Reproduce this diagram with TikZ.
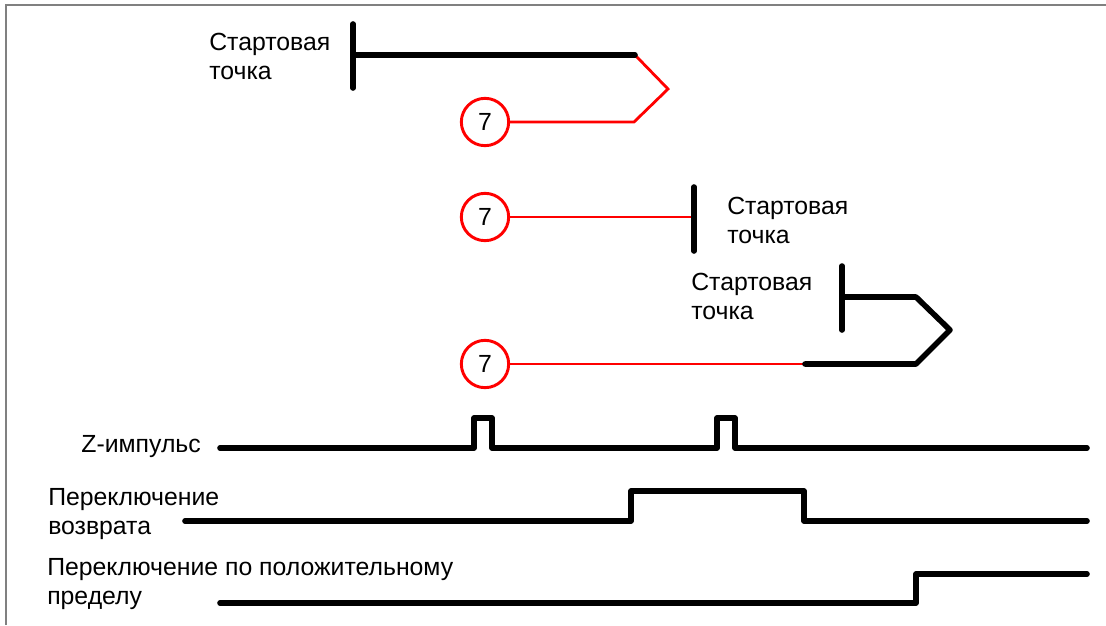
\documentclass[tikz,border=0pt]{standalone}
\usepackage{fontspec}
\setmainfont{Liberation Sans}
\usetikzlibrary{positioning}

\tikzset{
  sig/.style={line width=4.2pt, line cap=round, line join=round},
  redpath/.style={red, line width=2.1pt},
  zmark/.style={circle, draw=red, line width=2.2pt, minimum size=35.5pt, inner sep=0pt, font=\fontsize{18.6}{21}\selectfont},
  lbl/.style={align=left, inner sep=0pt, font=\fontsize{18.6}{21.8}\selectfont},
}

\begin{document}
\begin{tikzpicture}[x=0.75pt,y=-0.75pt]
\useasboundingbox (0,0) rectangle (1106,625);

% Frame
\draw[gray, line width=1.5pt] (6,625) -- (6,5) -- (1106,5);

% Case 1: start, overshoot, back to Z
\node[zmark] (z1) at (485,122) {7};
\coordinate (s1top) at (353,24);
\coordinate (s1bot) at (353,88);
\coordinate (s1) at (353,55);
\coordinate (s1end) at (635,55);
\draw[redpath] (s1end) -- (668,89) -- (634,122) -- (z1.east);
\draw[sig] (s1top) -- (s1bot);
\draw[sig] (s1) -- (s1end);
\node[lbl, anchor=west] (lab1) at (209,56) {Стартовая\\точка};

% Case 2: straight to start point
\node[zmark] (z2) at (485,217) {7};
\coordinate (s2top) at (694,187);
\coordinate (s2bot) at (694,251);
\coordinate (s2) at (694,217);
\draw[redpath] (z2.east) -- (s2);
\draw[sig] (s2top) -- (s2bot);
\node[lbl, anchor=west] (lab2) at (727,220) {Стартовая\\точка};

% Case 3: start past limit, reverse
\node[zmark] (z3) at (485,364) {7};
\coordinate (s3top) at (842,266);
\coordinate (s3bot) at (842,330);
\coordinate (s3) at (842,297);
\coordinate (s3end) at (805,364);
\draw[redpath] (z3.east) -- (s3end);
\draw[sig] (s3top) -- (s3bot);
\draw[sig] (s3) -- (916,297) -- (950,330) -- (916,364) -- (s3end);
\node[lbl, anchor=west] (lab3) at (691,296) {Стартовая\\точка};

% Z-pulse
\node[lbl, anchor=east] (zlab) at (201,447) {Z-импульс};
\coordinate (za) at (220,448);
\coordinate (zb) at (1087,448);
\draw[sig] (za) -- (474,448) -- (474,418) -- (492,418) -- (492,448)
  -- (717,448) -- (717,418) -- (735,418) -- (735,448) -- (zb);

% Return switch
\node[lbl, anchor=west] (rlab) at (48,514) {Переключение\\возврата};
\coordinate (ra) at (185,521);
\coordinate (rb) at (1087,521);
\draw[sig] (ra) -- (631,521) -- (631,491) -- (804,491) -- (804,521) -- (rb);

% Positive limit switch
\node[lbl, anchor=west] (plab) at (47,584) {Переключение по положительному\\пределу};
\coordinate (pa) at (220,603);
\coordinate (pb) at (1087,574);
\draw[sig] (pa) -- (916,603) -- (916,574) -- (pb);

\end{tikzpicture}
\end{document}
